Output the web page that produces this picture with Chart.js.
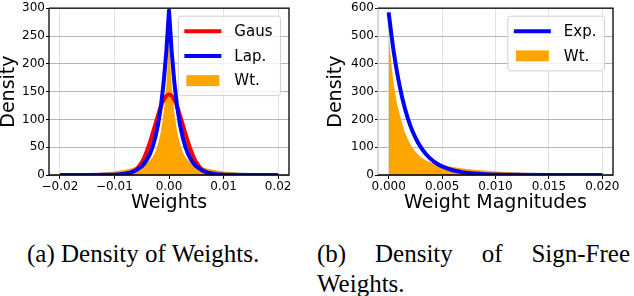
<!DOCTYPE html>
<html>
<head>
<meta charset="utf-8">
<script src="https://cdn.jsdelivr.net/npm/chart.js@4.4.0/dist/chart.umd.min.js"></script>
<style>
  body { margin: 0; background: #fff; width: 634px; height: 296px; position: relative; overflow: hidden; }
  canvas { position: absolute; top: 0; }
  #cA { left: 0; }
  #cB { left: 310px; }
  .cap { position: absolute; font-family: 'Liberation Serif', serif; font-size: 25px; line-height: 30px; color: #000; }
  #capA { left: 27px; top: 239px; white-space: nowrap; }
  #capB { left: 317px; top: 239px; width: 313px; text-align: justify; }
</style>
</head>
<body>
<canvas id="cA" width="305" height="215"></canvas>
<canvas id="cB" width="324" height="215"></canvas>
<div class="cap" id="capA">(a) Density of Weights.</div>
<div class="cap" id="capB">(b) Density of Sign-Free Weights.</div>
<script>
// (a) weights: histogram heights + the two fitted curves
const wtX = [-0.02, -0.018, -0.016, -0.014, -0.013, -0.012, -0.011, -0.01, -0.009, -0.008, -0.007, -0.006, -0.005, -0.004, -0.0035, -0.003, -0.0025, -0.002, -0.0015, -0.001, -0.00075, -0.0005, -0.00025, 0,
             0.00025, 0.0005, 0.00075, 0.001, 0.0015, 0.002, 0.0025, 0.003, 0.0035, 0.004, 0.005, 0.006, 0.007, 0.008, 0.009, 0.01, 0.011, 0.012, 0.013, 0.014, 0.016, 0.018, 0.02];
const wtDensity = [0.6, 1, 1.8, 2.8, 3.5, 4.5, 5.5, 6.5, 8, 9.5, 11.5, 14.5, 18, 22, 26, 32.5, 42, 56, 78, 111, 131, 160, 200, 252,
                   200, 160, 131, 111, 78, 56, 42, 32.5, 26, 22, 18, 14.5, 11.5, 9.5, 8, 6.5, 5.5, 4.5, 3.5, 2.8, 1.8, 1, 0.6];
const fitX = [-0.02, -0.015, -0.012, -0.01, -0.009, -0.008, -0.007, -0.006, -0.005, -0.0045, -0.004, -0.0035, -0.003, -0.0025, -0.002, -0.0015, -0.001, -0.0005, 0,
              0.0005, 0.001, 0.0015, 0.002, 0.0025, 0.003, 0.0035, 0.004, 0.0045, 0.005, 0.006, 0.007, 0.008, 0.009, 0.01, 0.012, 0.015, 0.02];
const gausY = [0, 0, 0, 0.1, 0.4, 1.3, 3.9, 10.1, 22.8, 32.4, 44.4, 58.6, 74.5, 91.3, 107.9, 122.8, 134.7, 142.3, 145,
               142.3, 134.7, 122.8, 107.9, 91.3, 74.5, 58.6, 44.4, 32.4, 22.8, 10.1, 3.9, 1.3, 0.4, 0.1, 0, 0, 0];
const lapY = [0, 0.04, 0.26, 0.8, 1.5, 2.7, 4.8, 8.7, 15.6, 21, 28.1, 37.8, 50.7, 68, 91.3, 122.5, 164.4, 220.6, 296,
              220.6, 164.4, 122.5, 91.3, 68, 50.7, 37.8, 28.1, 21, 15.6, 8.7, 4.8, 2.7, 1.5, 0.8, 0.26, 0.04, 0];
const xTicksA = [-0.02, -0.01, 0, 0.01, 0.02];
const xLabelsA = ['\u22120.02', '\u22120.01', '0.00', '0.01', '0.02'];
const yTicksA = [0, 50, 100, 150, 200, 250, 300];

// (b) sign-free weights: histogram + exponential fit
const magX = [0, 0.00025, 0.0005, 0.00075, 0.001, 0.0015, 0.002, 0.0025, 0.003, 0.0035, 0.004, 0.005, 0.006, 0.007, 0.008, 0.009, 0.01, 0.011, 0.012, 0.013, 0.014, 0.016, 0.018, 0.02];
const magDensity = [505, 400, 320, 262, 222, 155, 112, 84, 65, 52, 44, 36, 29, 23, 19, 16, 13, 11, 9, 7, 5.5, 3.5, 2, 1.2];
const expX = [0, 0.00025, 0.0005, 0.001, 0.0015, 0.002, 0.0025, 0.003, 0.0035, 0.004, 0.0045, 0.005, 0.006, 0.007, 0.008, 0.009, 0.01, 0.012, 0.015, 0.02];
const expY = [585, 505, 436, 325, 242, 180.5, 134.5, 100.2, 74.6, 55.6, 41.4, 30.9, 17.2, 9.5, 5.3, 2.9, 1.6, 0.5, 0.1, 0];
const xTicksB = [0, 0.005, 0.01, 0.015, 0.02];
const xLabelsB = ['0.000', '0.005', '0.010', '0.015', '0.020'];
const yTicksB = [0, 100, 200, 300, 400, 500, 600];

const FONT = 'DejaVu Sans';
const pts = (xs, ys) => xs.map((x, i) => ({ x: x, y: ys[i] }));

// black frame on top of the marks, then a matplotlib-like legend inside the axes
const frameLegend = {
  id: 'frameLegend',
  afterDatasetsDraw(chart, args, opts) {
    const { ctx, chartArea: a } = chart;
    ctx.save();
    ctx.lineWidth = 1.3;
    ctx.strokeStyle = opts.leftSpine;
    ctx.beginPath();
    ctx.moveTo(a.left, a.top); ctx.lineTo(a.left, a.bottom);
    ctx.stroke();
    ctx.strokeStyle = '#000';
    ctx.beginPath();
    ctx.moveTo(a.left, a.top); ctx.lineTo(a.right, a.top);
    ctx.lineTo(a.right, a.bottom); ctx.lineTo(a.left, a.bottom);
    ctx.stroke();

    const items = chart.data.datasets;
    ctx.font = '15px "' + FONT + '"';
    let tw = 0;
    items.forEach(d => { tw = Math.max(tw, ctx.measureText(d.label).width); });
    const w = 56 + tw + 8, h = 30 + (items.length - 1) * 24.7;
    const bx = a.right - 8.5 - w, by = a.top + 8;
    ctx.fillStyle = 'rgba(255,255,255,0.8)';
    ctx.strokeStyle = '#d0d0d0';
    ctx.lineWidth = 1;
    ctx.beginPath();
    ctx.roundRect(bx, by, w, h, 3);
    ctx.fill(); ctx.stroke();
    ctx.textBaseline = 'middle';
    items.forEach((d, i) => {
      const y = by + 15 + i * 24.7;
      if (d.fill) {
        ctx.fillStyle = d.backgroundColor;
        ctx.fillRect(bx + 8, y - 5.5, 33, 11);
      } else {
        ctx.strokeStyle = d.borderColor;
        ctx.lineWidth = 4;
        ctx.beginPath();
        ctx.moveTo(bx + 6, y); ctx.lineTo(bx + 43, y);
        ctx.stroke();
      }
      ctx.fillStyle = '#000';
      ctx.fillText(d.label, bx + 56, y + 1);
    });
    ctx.restore();
  }
};

function xScale(min, max, ticks, labels, title) {
  return {
    type: 'linear', min: min, max: max,
    afterBuildTicks: s => { s.ticks = ticks.map(v => ({ value: v })); },
    afterFit: s => { s.height = 40; },
    ticks: { autoSkip: false, maxRotation: 0, padding: 1, color: '#000',
             font: { family: FONT, size: 12 }, callback: (v, i) => labels[i] },
    grid: { color: '#e2e2e2', tickColor: '#000', tickLength: 4 },
    border: { display: false },
    title: { display: true, text: title, color: '#000', padding: { top: 0, bottom: 2.5 },
             font: { family: FONT, size: 19, lineHeight: 1 } }
  };
}

function yScale(max, ticks, width, titlePad) {
  return {
    min: 0, max: max,
    afterBuildTicks: s => { s.ticks = ticks.map(v => ({ value: v })); },
    afterFit: s => { s.width = width; },
    ticks: { padding: 1, color: '#000', font: { family: FONT, size: 12 } },
    grid: { color: '#b4b4b4', tickColor: '#000', tickLength: 3 },
    border: { display: false },
    title: { display: true, text: 'Density', color: '#000', padding: { top: titlePad, bottom: 0 },
             font: { family: FONT, size: 19, lineHeight: 1 } }
  };
}

new Chart(document.getElementById('cA'), {
  type: 'line',
  data: {
    datasets: [
      { label: 'Gaus', data: pts(fitX, gausY), borderColor: '#ff0000', borderWidth: 4,
        cubicInterpolationMode: 'monotone', pointRadius: 0, fill: false, order: 1, clip: 0 },
      { label: 'Lap.', data: pts(fitX, lapY), borderColor: '#0000ff', borderWidth: 4, tension: 0,
        borderJoinStyle: 'round', pointRadius: 0, fill: false, order: 0, clip: 0 },
      { label: 'Wt.', data: pts(wtX, wtDensity), backgroundColor: '#ffa500', borderWidth: 0,
        pointRadius: 0, fill: 'origin', order: 2, clip: 0 }
    ]
  },
  options: {
    responsive: false, animation: false, devicePixelRatio: 1,
    layout: { padding: { top: 7, right: 16, left: 0, bottom: 0 } },
    plugins: { legend: { display: false }, tooltip: { enabled: false }, frameLegend: { leftSpine: '#000' } },
    scales: {
      x: xScale(-0.022, 0.022, xTicksA, xLabelsA, 'Weights'),
      y: yScale(300, yTicksA, 49, 0)
    }
  },
  plugins: [frameLegend]
});

new Chart(document.getElementById('cB'), {
  type: 'line',
  data: {
    datasets: [
      { label: 'Exp.', data: pts(expX, expY), borderColor: '#0000ff', borderWidth: 4,
        cubicInterpolationMode: 'monotone', pointRadius: 0, fill: false, order: 0, clip: 0 },
      { label: 'Wt.', data: pts(magX, magDensity), backgroundColor: '#ffa500', borderWidth: 0,
        pointRadius: 0, fill: 'origin', order: 1, clip: 0 }
    ]
  },
  options: {
    responsive: false, animation: false, devicePixelRatio: 1,
    layout: { padding: { top: 7, right: 21, left: 0, bottom: 0 } },
    plugins: { legend: { display: false }, tooltip: { enabled: false }, frameLegend: { leftSpine: '#c4c4c4' } },
    scales: {
      x: xScale(-0.001, 0.021, xTicksB, xLabelsB, 'Weight Magnitudes'),
      y: yScale(600, yTicksB, 68, 16.5)
    }
  },
  plugins: [frameLegend]
});
</script>
</body>
</html>
